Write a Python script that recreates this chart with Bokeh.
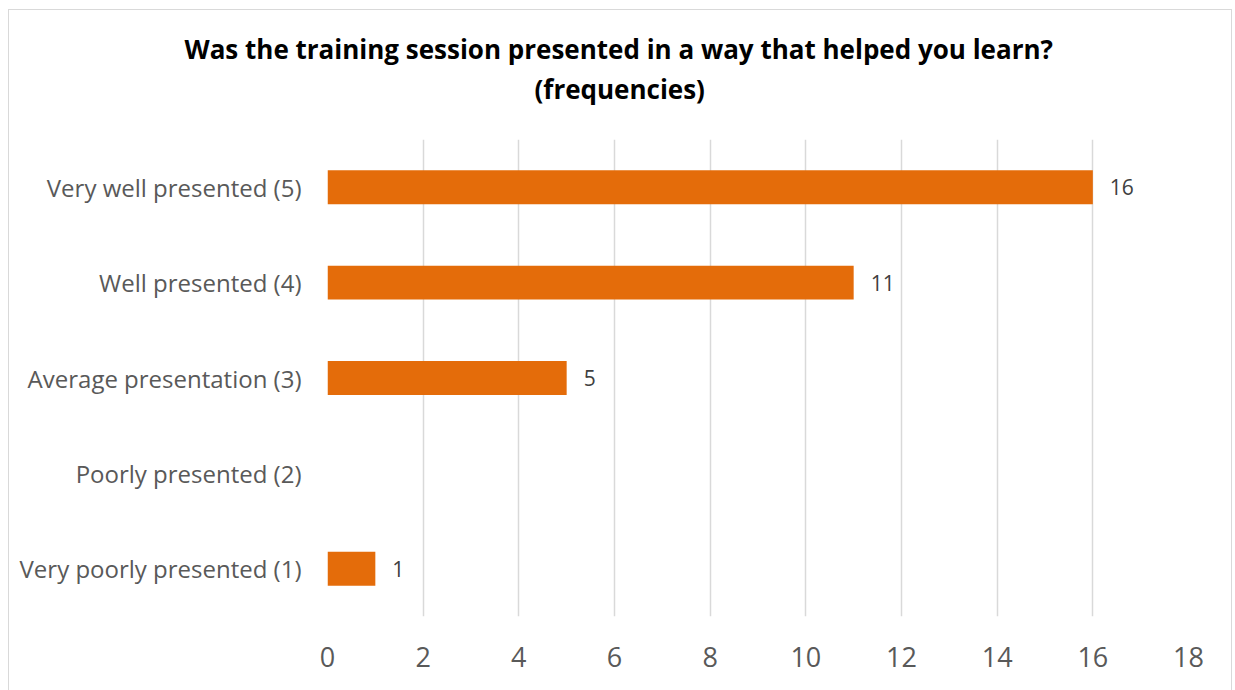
from bokeh.plotting import figure
from bokeh.models import ColumnDataSource, Title, FixedTicker, Range1d, FactorRange
from bokeh.core.properties import value
from bokeh.embed import file_html
from bokeh.resources import INLINE

categories = ["Very poorly presented (1)", "Poorly presented (2)", "Average presentation (3)",
              "Well presented (4)", "Very well presented (5)"]
counts = [1, 0, 5, 11, 16]
x_ticks = [0, 2, 4, 6, 8, 10, 12, 14, 16, 18]
title_line1 = "Was the training session presented in a way that helped you learn?"
title_line2 = "(frequencies)"

BAR = "#E46C0A"
GRID = "#D9D9D9"
TXT = "#595959"
FONT = "Open Sans"

src = ColumnDataSource(dict(cat=categories, val=counts))
lab = ColumnDataSource(dict(cat=[c for c, v in zip(categories, counts) if v > 0],
                            val=[v for v in counts if v > 0],
                            txt=[str(v) for v in counts if v > 0]))

p = figure(width=1224, height=682, output_backend="svg", toolbar_location=None,
           y_range=FactorRange(factors=categories, range_padding=0),
           x_range=Range1d(0, 18),
           min_border_left=318, min_border_right=45, min_border_top=129, min_border_bottom=76)
p.styles = {"border": "1px solid #D9D9D9", "box-sizing": "border-box",
            "margin-left": "8px", "margin-top": "9px"}
p.outline_line_color = None
p.background_fill_color = "white"
p.border_fill_color = "white"

p.hbar(y="cat", right="val", left=0, height=0.355, source=src,
       fill_color=BAR, line_color=None)
p.text(x="val", y="cat", text="txt", source=lab, x_offset=17,
       text_baseline="middle", text_align="left", text_color="#404040",
       text_font=value(FONT), text_font_size="21px")

p.title.text = title_line1
p.title.align = "left"
p.title.offset = -143
p.title.text_font = FONT
p.title.text_font_size = "26px"
p.title.text_font_style = "bold"
p.title.text_color = "black"
p.title.standoff = 2

spacer = Title(text=" ", text_font_size="2px", standoff=28, text_color="white")
p.add_layout(spacer, "above")
t2 = Title(text=title_line2, align="left", offset=207, text_font=FONT, text_font_size="26px",
           text_font_style="bold", text_color="black", standoff=2)
p.add_layout(t2, "above")

p.xaxis.ticker = FixedTicker(ticks=x_ticks)
p.xaxis.axis_line_color = None
p.xaxis.major_tick_line_color = None
p.xaxis.minor_tick_line_color = None
p.xaxis.major_label_standoff = 24
p.xaxis.major_label_text_font = FONT
p.xaxis.major_label_text_font_size = "27px"
p.xaxis.major_label_text_color = TXT

p.yaxis.axis_line_color = None
p.yaxis.major_tick_line_color = None
p.yaxis.major_label_standoff = 20
p.yaxis.major_label_text_font = FONT
p.yaxis.major_label_text_font_size = "24px"
p.yaxis.major_label_text_color = TXT

p.xgrid.grid_line_color = GRID
p.xgrid.grid_line_width = 1.5
p.ygrid.grid_line_color = None

open("out.html", "w").write(file_html(p, INLINE))
